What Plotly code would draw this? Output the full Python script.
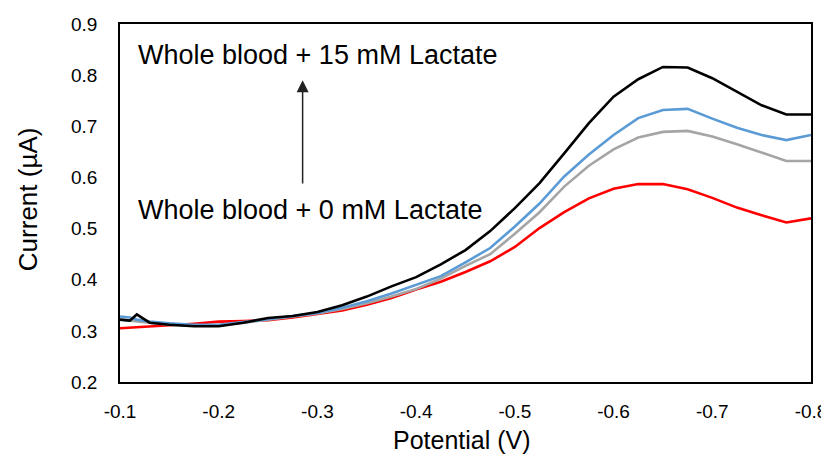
import plotly.graph_objects as go

potential = [-0.100, -0.110, -0.117, -0.130, -0.150, -0.175, -0.200, -0.225, -0.250, -0.275,
             -0.300, -0.325, -0.350, -0.375, -0.400, -0.425, -0.450, -0.475, -0.500, -0.525,
             -0.550, -0.575, -0.600, -0.625, -0.650, -0.675, -0.700, -0.725, -0.750, -0.775, -0.800]

current_0mM = [0.305, 0.306, 0.307, 0.308, 0.311, 0.314, 0.318, 0.319, 0.321, 0.326,
               0.333, 0.340, 0.351, 0.364, 0.381, 0.396, 0.415, 0.436, 0.464, 0.501,
               0.532, 0.559, 0.578, 0.587, 0.587, 0.577, 0.560, 0.541, 0.526, 0.512, 0.520]

current_5mM = [0.322, 0.320, 0.318, 0.315, 0.312, 0.310, 0.311, 0.316, 0.322, 0.328,
               0.334, 0.343, 0.354, 0.367, 0.382, 0.402, 0.427, 0.450, 0.490, 0.532,
               0.582, 0.623, 0.655, 0.678, 0.689, 0.691, 0.680, 0.665, 0.649, 0.632, 0.632]

current_10mM = [0.328, 0.326, 0.322, 0.318, 0.315, 0.312, 0.312, 0.317, 0.323, 0.329,
                0.335, 0.345, 0.358, 0.373, 0.390, 0.407, 0.434, 0.462, 0.504, 0.549,
                0.602, 0.645, 0.683, 0.716, 0.732, 0.734, 0.715, 0.697, 0.683, 0.673, 0.683]

current_15mM = [0.322, 0.320, 0.332, 0.316, 0.312, 0.309, 0.309, 0.316, 0.325, 0.329,
                0.337, 0.350, 0.367, 0.387, 0.405, 0.430, 0.458, 0.495, 0.540, 0.589,
                0.647, 0.706, 0.758, 0.792, 0.816, 0.815, 0.794, 0.767, 0.741, 0.723, 0.723]

series_names = ["0 mM", "5 mM", "10 mM", "15 mM"]
series_values = [current_0mM, current_5mM, current_10mM, current_15mM]
series_colors = ["#FF0000", "#A5A5A5", "#5B9BD5", "#000000"]

x_tickvals = [-0.1, -0.2, -0.3, -0.4, -0.5, -0.6, -0.7, -0.8]
x_ticktext = ["-0.1", "-0.2", "-0.3", "-0.4", "-0.5", "-0.6", "-0.7", "-0.8"]
y_tickvals = [0.2, 0.3, 0.4, 0.5, 0.6, 0.7, 0.8, 0.9]
y_ticktext = ["0.2", "0.3", "0.4", "0.5", "0.6", "0.7", "0.8", "0.9"]

x_title = "Potential (V)"
y_title = "Current (µA)"
label_top = "Whole blood + 15 mM Lactate"
label_bottom = "Whole blood + 0 mM Lactate"

FONT = "Liberation Sans, Arial, sans-serif"

fig = go.Figure()
for name, vals, col in zip(series_names, series_values, series_colors):
    fig.add_trace(go.Scatter(x=potential, y=vals, mode="lines", name=name,
                             line=dict(color=col, width=2.6)))

# page body has an 8px margin; figure sized to fit the 829x455 window
fig.update_layout(
    width=821, height=447,
    margin=dict(l=112, r=18, t=16, b=73),
    paper_bgcolor="white", plot_bgcolor="white",
    showlegend=False,
    font=dict(family=FONT, color="#000000"),
    xaxis=dict(range=[-0.1, -0.8], tickvals=x_tickvals, ticktext=x_ticktext,
               showgrid=False, zeroline=False, showline=True, mirror=True,
               linecolor="#000000", linewidth=1.5, ticks="", automargin=False,
               tickfont=dict(size=19, family=FONT), ticklabelstandoff=11),
    yaxis=dict(range=[0.2, 0.9], tickvals=y_tickvals, ticktext=y_ticktext,
               showgrid=False, zeroline=False, showline=True, mirror=True,
               linecolor="#000000", linewidth=1.5, ticks="", automargin=False,
               tickfont=dict(size=19, family=FONT), ticklabelstandoff=17),
)

fig.add_annotation(x=0.4945, y=-0.163, xref="paper", yref="paper", text=x_title,
                   showarrow=False, xanchor="center", yanchor="middle",
                   font=dict(size=25, family=FONT, color="#000000"))
fig.add_annotation(x=-0.133, y=0.511, xref="paper", yref="paper", text=y_title,
                   showarrow=False, xanchor="center", yanchor="middle", textangle=-90,
                   font=dict(size=26, family=FONT, color="#000000"))

fig.add_annotation(x=-0.116, y=0.840, xref="x", yref="y", text=label_top,
                   showarrow=False, xanchor="left", yanchor="middle",
                   font=dict(size=27, family=FONT, color="#000000"))
fig.add_annotation(x=-0.116, y=0.536, xref="x", yref="y", text=label_bottom,
                   showarrow=False, xanchor="left", yanchor="middle",
                   font=dict(size=27, family=FONT, color="#000000"))
fig.add_annotation(x=-0.285, y=0.79, xref="x", yref="y", ax=-0.285, ay=0.585,
                   axref="x", ayref="y", text="", showarrow=True,
                   arrowhead=2, arrowsize=1.6, arrowwidth=1.5, arrowcolor="#222222")

fig.write_html("out.html")
